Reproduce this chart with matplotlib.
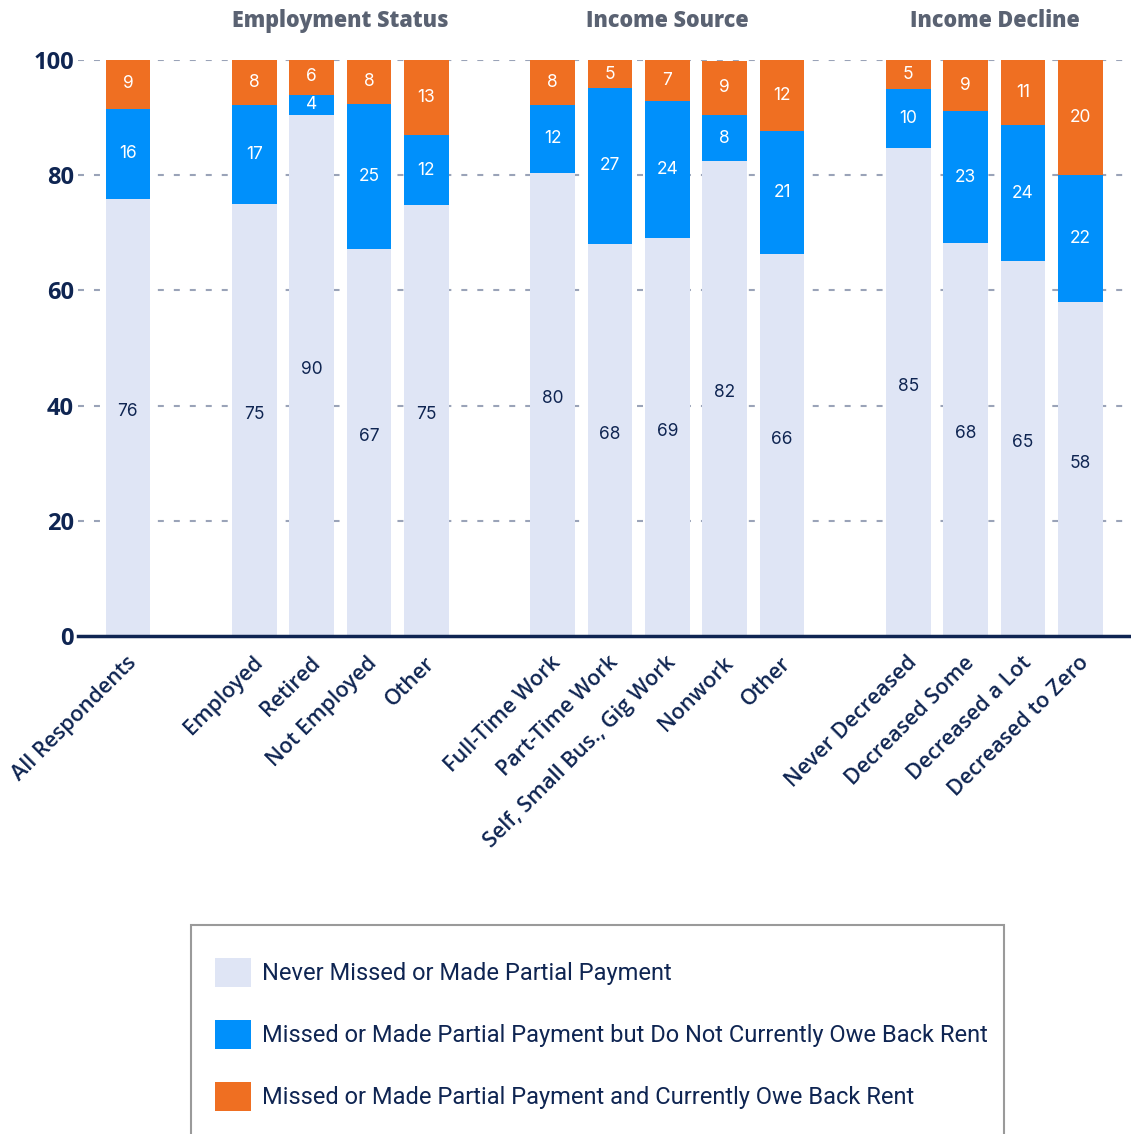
import matplotlib
matplotlib.use("Agg")
import matplotlib.pyplot as plt
from matplotlib.patches import Rectangle
import numpy as np

plt.rcParams["lines.scale_dashes"] = False

# ---- data ----
categories = ["All Respondents",
              "Employed", "Retired", "Not Employed", "Other",
              "Full-Time Work", "Part-Time Work", "Self, Small Bus., Gig Work", "Nonwork", "Other",
              "Never Decreased", "Decreased Some", "Decreased a Lot", "Decreased to Zero"]
group_of = [0, 1, 1, 1, 1, 2, 2, 2, 2, 2, 3, 3, 3, 3]
group_titles = ["", "Employment Status", "Income Source", "Income Decline"]

never_missed = [75.9, 75.0, 90.4, 67.2, 74.8, 80.4, 68.1, 69.1, 82.4, 66.3, 84.7, 68.2, 65.1, 58.0]
missed_no_owe = [15.6, 17.2, 3.6, 25.2, 12.2, 11.8, 27.0, 23.8, 8.1, 21.4, 10.3, 22.9, 23.6, 22.0]
missed_owe = [8.7, 7.8, 6.1, 7.6, 13.0, 7.8, 4.9, 7.1, 9.4, 12.3, 5.0, 8.9, 11.3, 20.0]

series_names = ["Never Missed or Made Partial Payment",
                "Missed or Made Partial Payment but Do Not Currently Owe Back Rent",
                "Missed or Made Partial Payment and Currently Owe Back Rent"]
yticks = [0, 20, 40, 60, 80, 100]

# ---- style ----
C_LIGHT = "#dfe5f5"
C_BLUE = "#0090fb"
C_ORANGE = "#ef6f22"
NAVY = "#0f2552"
GRID = "#9aa3b8"
HEAD = "#5a6272"

W, H = 1131, 1134
fig = plt.figure(figsize=(W / 100, H / 100), dpi=100)
ax = fig.add_axes([78 / W, 1 - 636 / H, 1 - 78 / W, (636 - 60) / H])

# x positions: groups separated by a wider gap
pos = []
x = 0.0
prev = None
for g in group_of:
    if prev is not None:
        x += 1.0 if g == prev else 2.2
    pos.append(x)
    prev = g
pos = np.array(pos)

bw = 0.78
series = [never_missed, missed_no_owe, missed_owe]
colors = [C_LIGHT, C_BLUE, C_ORANGE]
txtcol = [NAVY, "white", "white"]
bottom = np.zeros(len(categories))
for i, (vals, col, tc, name) in enumerate(zip(series, colors, txtcol, series_names)):
    vals = np.array(vals)
    ax.bar(pos, vals, bw, bottom=bottom, color=col, label=name, zorder=2)
    for xi, b, v in zip(pos, bottom, vals):
        yy = b + v / 2 + (1.0 if i == 0 else 0.0)
        ax.text(xi, yy, f"{v:.0f}", ha="center", va="center",
                fontsize=12.5, color=tc, family="Inter", zorder=3)
    bottom += vals

ax.set_ylim(0, 100)
ax.set_xlim(pos[0] - 0.87, pos[-1] + 0.88)
ax.set_yticks(yticks)
ax.set_yticklabels([str(t) for t in yticks], fontsize=17, fontweight="bold",
                   color=NAVY, family="Open Sans")
ax.tick_params(axis="y", length=0, pad=3)
ax.tick_params(axis="x", length=0, pad=6)
ax.set_xticks(pos)
ax.set_xticklabels(categories, rotation=45, ha="right", rotation_mode="anchor",
                   fontsize=15.5, fontweight="semibold", color=NAVY, family="Open Sans")
for lbl in ax.get_xticklabels():
    lbl.set_transform(lbl.get_transform() + matplotlib.transforms.ScaledTranslation(-0.02, -0.08, fig.dpi_scale_trans))
for y in yticks[1:]:
    ax.axhline(y, color=GRID, lw=1.5, linestyle=(0, (4.3, 7.2)), zorder=1)
for s in ["top", "right", "left"]:
    ax.spines[s].set_visible(False)
ax.spines["bottom"].set_color(NAVY)
ax.spines["bottom"].set_linewidth(2.5)
ax.spines["bottom"].set_zorder(4)

# group headers
for gi, title in enumerate(group_titles):
    if not title:
        continue
    xs = pos[np.array(group_of) == gi]
    ax.text((xs[0] + xs[-1]) / 2, 1 - 21 / H, title,
            transform=matplotlib.transforms.blended_transform_factory(ax.transData, fig.transFigure),
            ha="center", va="center", fontsize=15.5, fontweight="heavy", color=HEAD, family="Open Sans")

# legend (frame drawn separately so it runs off the bottom edge like the reference)
leg = fig.legend(loc="upper left", bbox_to_anchor=(191 / W, 1 - 934 / H),
                 bbox_transform=fig.transFigure, frameon=False,
                 prop={"family": "Roboto", "size": 17},
                 handlelength=1.52, handleheight=1.52, labelspacing=1.4,
                 borderpad=1.0, handletextpad=0.5, borderaxespad=0)
for t in leg.get_texts():
    t.set_color(NAVY)
fig.patches.append(Rectangle((191 / W, -0.02), (1004 - 191) / W, (1134 - 925) / H + 0.02,
                             transform=fig.transFigure, fill=False,
                             edgecolor="#9a9a9a", linewidth=1.5))

fig.savefig("out.png", dpi=100)
